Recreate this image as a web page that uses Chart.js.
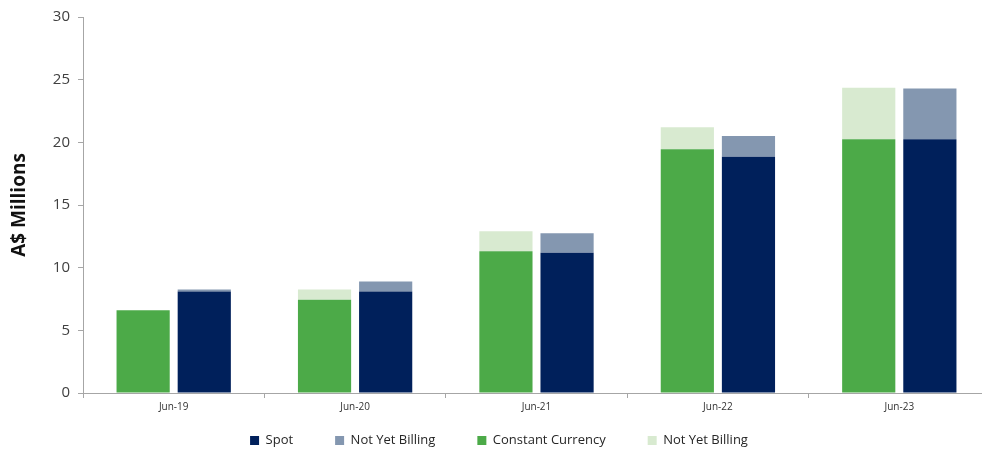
<!DOCTYPE html>
<html>
<head>
<meta charset="utf-8">
<script src="https://cdn.jsdelivr.net/npm/chart.js@4"></script>
<style>
  html, body { margin: 0; padding: 0; background: #fff; overflow: hidden; }
  /* plot runs a little past the right edge, as in the original */
  #wrap { width: 990px; height: 451px; }
</style>
</head>
<body>
<div id="wrap"><canvas id="myChart"></canvas></div>
<script>
const labels = ['Jun-19', 'Jun-20', 'Jun-21', 'Jun-22', 'Jun-23'];

const constantCurrency = [6.6, 7.45, 11.3, 19.45, 20.25];
const constantNotYetBilling = [0, 0.8, 1.6, 1.75, 4.1];
const spot = [8.1, 8.1, 11.2, 18.85, 20.25];
const spotNotYetBilling = [0.15, 0.8, 1.55, 1.65, 4.05];

const yTicks = [0, 5, 10, 15, 20, 25, 30];

// legend shows Spot first, but green stack sits on the left
const legendRank = [2, 3, 0, 1];

const data = {
    labels: labels,
    datasets: [
        {
            label: 'Constant Currency',
            data: constantCurrency,
            backgroundColor: '#4caa48',
            stack: 'cc',
        },
        {
            label: 'Not Yet Billing',
            data: constantNotYetBilling,
            backgroundColor: '#d8ead0',
            stack: 'cc',
        },
        {
            label: 'Spot',
            data: spot,
            backgroundColor: '#00205b',
            stack: 'spot',
        },
        {
            label: 'Not Yet Billing',
            data: spotNotYetBilling,
            backgroundColor: '#8497b0',
            stack: 'spot',
        },
    ]
};

// wide gaps between legend items but a short legend box:
// reserve little height, then stretch the box upward before drawing
const legendLift = {
    id: 'legendLift',
    afterLayout(chart) {
        chart.legend.top -= 24;
        chart.legend.height += 24;
    }
};

const config = {
    type: 'bar',
    data: data,
    plugins: [legendLift],
    options: {
        responsive: true,
        maintainAspectRatio: false,
        animation: false,
        layout: {
            padding: { left: 8, right: 0, top: 12, bottom: 0 }
        },
        datasets: {
            bar: {
                categoryPercentage: 0.674,
                barPercentage: 0.87,
            }
        },
        plugins: {
            tooltip: { enabled: false },
            legend: {
                position: 'bottom',
                maxHeight: 35,
                labels: {
                    boxWidth: 9,
                    boxHeight: 9,
                    padding: 42,
                    color: '#262626',
                    font: { family: 'Open Sans', size: 13 },
                    sort: (a, b) => legendRank[a.datasetIndex] - legendRank[b.datasetIndex],
                }
            }
        },
        scales: {
            x: {
                stacked: true,
                offset: true,
                border: { color: '#a6a6a6' },
                grid: {
                    offset: true,
                    drawOnChartArea: false,
                    tickLength: 5,
                    color: '#a6a6a6',
                },
                ticks: {
                    color: '#333',
                    font: { family: 'Open Sans', size: 10 },
                    padding: 3,
                    maxRotation: 0,
                }
            },
            y: {
                stacked: true,
                min: 0,
                max: 30,
                afterFit: (scale) => { scale.width = 75; },
                afterBuildTicks: (scale) => { scale.ticks = yTicks.map(v => ({ value: v })); },
                border: { color: '#a6a6a6' },
                grid: {
                    drawOnChartArea: false,
                    tickLength: 5,
                    color: '#a6a6a6',
                },
                ticks: {
                    color: '#404040',
                    font: { family: 'Open Sans', size: 15 },
                    padding: 8,
                },
                title: {
                    display: true,
                    text: 'A$ Millions',
                    color: '#111',
                    font: { family: 'Open Sans', size: 19, weight: 'bold' },
                    padding: 0,
                }
            }
        }
    }
};

const myChart = new Chart(
    document.getElementById('myChart'),
    config
);
</script>
</body>
</html>
